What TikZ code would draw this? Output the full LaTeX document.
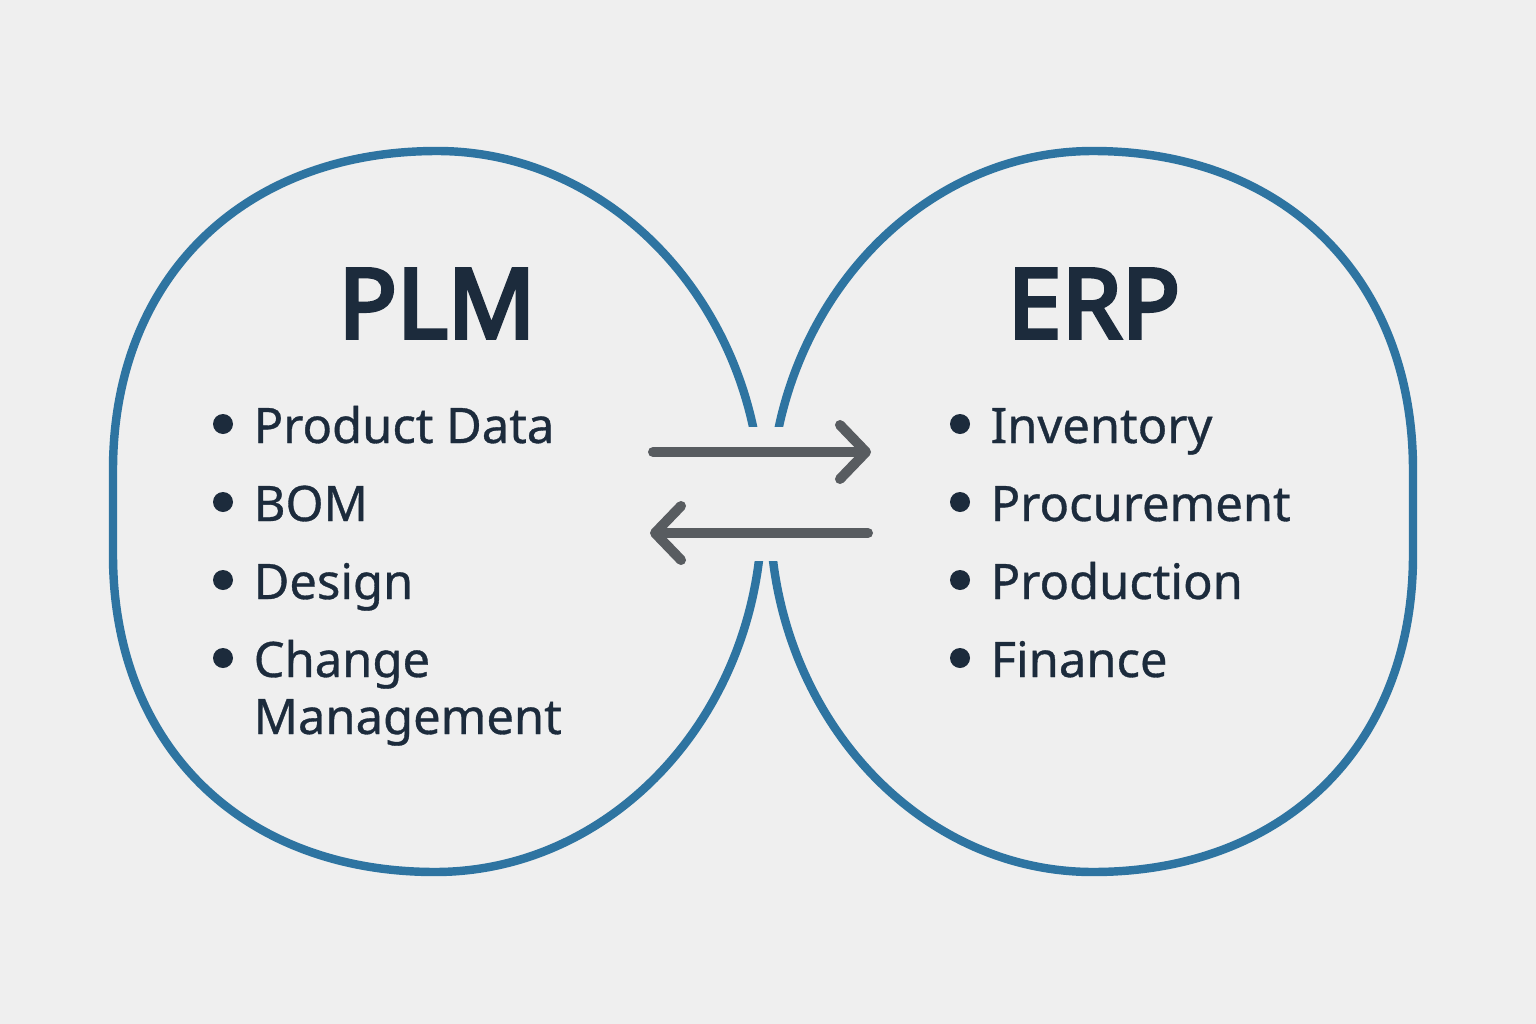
\documentclass[tikz,border=0pt]{standalone}
\usepackage{fontspec}
\setmainfont{Noto Sans}[FakeBold=0.7]
\newfontfamily\titlefont{Noto Sans}[FakeBold=4]
\usepackage{xcolor}
\usepackage{tikz}
\usetikzlibrary{calc,arrows.meta,positioning}
\definecolor{paper}{RGB}{239,239,239}
\definecolor{ringblue}{RGB}{46,116,161}
\definecolor{ink}{RGB}{28,43,60}
\definecolor{flowgray}{RGB}{88,92,96}

\begin{document}
\begin{tikzpicture}[x=0.01cm, y=-0.01cm,
      ring/.style={draw=ringblue, line width=2.4pt},
      title/.style={text=ink, font=\titlefont\fontsize{27.5}{30}\selectfont, inner sep=0pt, anchor=base},
      item/.style={text=ink, font=\fontsize{13.9}{17}\selectfont, inner sep=0pt, anchor=base west},
      flow/.style={-{Straight Barb[length=2.6mm, width=5.4mm, round]}, line width=1mm, line cap=round, flowgray}]
    \fill[paper] (0,0) rectangle (1536,1024);
    \useasboundingbox (0,0) rectangle (1536,1024);
    % the two rings
    \draw[ring] (437,151)
      .. controls (242.6,151) and (113,278.6) .. (113,470)
      -- (113,555)
      .. controls (113,745.2) and (241.8,872) .. (435,872)
      .. controls (615.5,872) and (762,710.3) .. (762,511)
      .. controls (762,312.3) and (616.4,151) .. cycle;
    \draw[ring] (1093,151)
      .. controls (914.7,151) and (770,312.3) .. (770,511)
      .. controls (770,710.3) and (914.7,872) .. (1093,872)
      .. controls (1285,872) and (1413,745.2) .. (1413,555)
      -- (1413,470)
      .. controls (1413,278.6) and (1285,151) .. cycle;
    \fill[paper] (735,427) rectangle (795,561);
    % titles
    \node[title] (plm) at (437,338) {PLM};
    \node[title] (erp) at (1094,338) {ERP};
    % lists
    \foreach \txt [count=\i] in {Product Data, BOM, Design, Change} {
      \node[item] (plm\i) at (253, 443+78*\i-78) {\txt};
      \fill[ink] ($(plm\i.base west)+(-30,-19)$) circle (10);
    }
    \node[item] (plm5) at ($(plm4.base west)+(0,57)$) {Management};
    \foreach \txt [count=\i] in {Inventory, Procurement, Production, Finance} {
      \node[item] (erp\i) at (990, 443+78*\i-78) {\txt};
      \fill[ink] ($(erp\i.base west)+(-30,-19)$) circle (10);
    }
    % data exchange
    \coordinate (fwdA) at (653,452);
    \coordinate (fwdB) at (871,452);
    \coordinate (backA) at (868,533);
    \coordinate (backB) at (650,533);
    \draw[flow] (fwdA) -- (fwdB);
    \draw[flow] (backA) -- (backB);
  \end{tikzpicture}
\end{document}
